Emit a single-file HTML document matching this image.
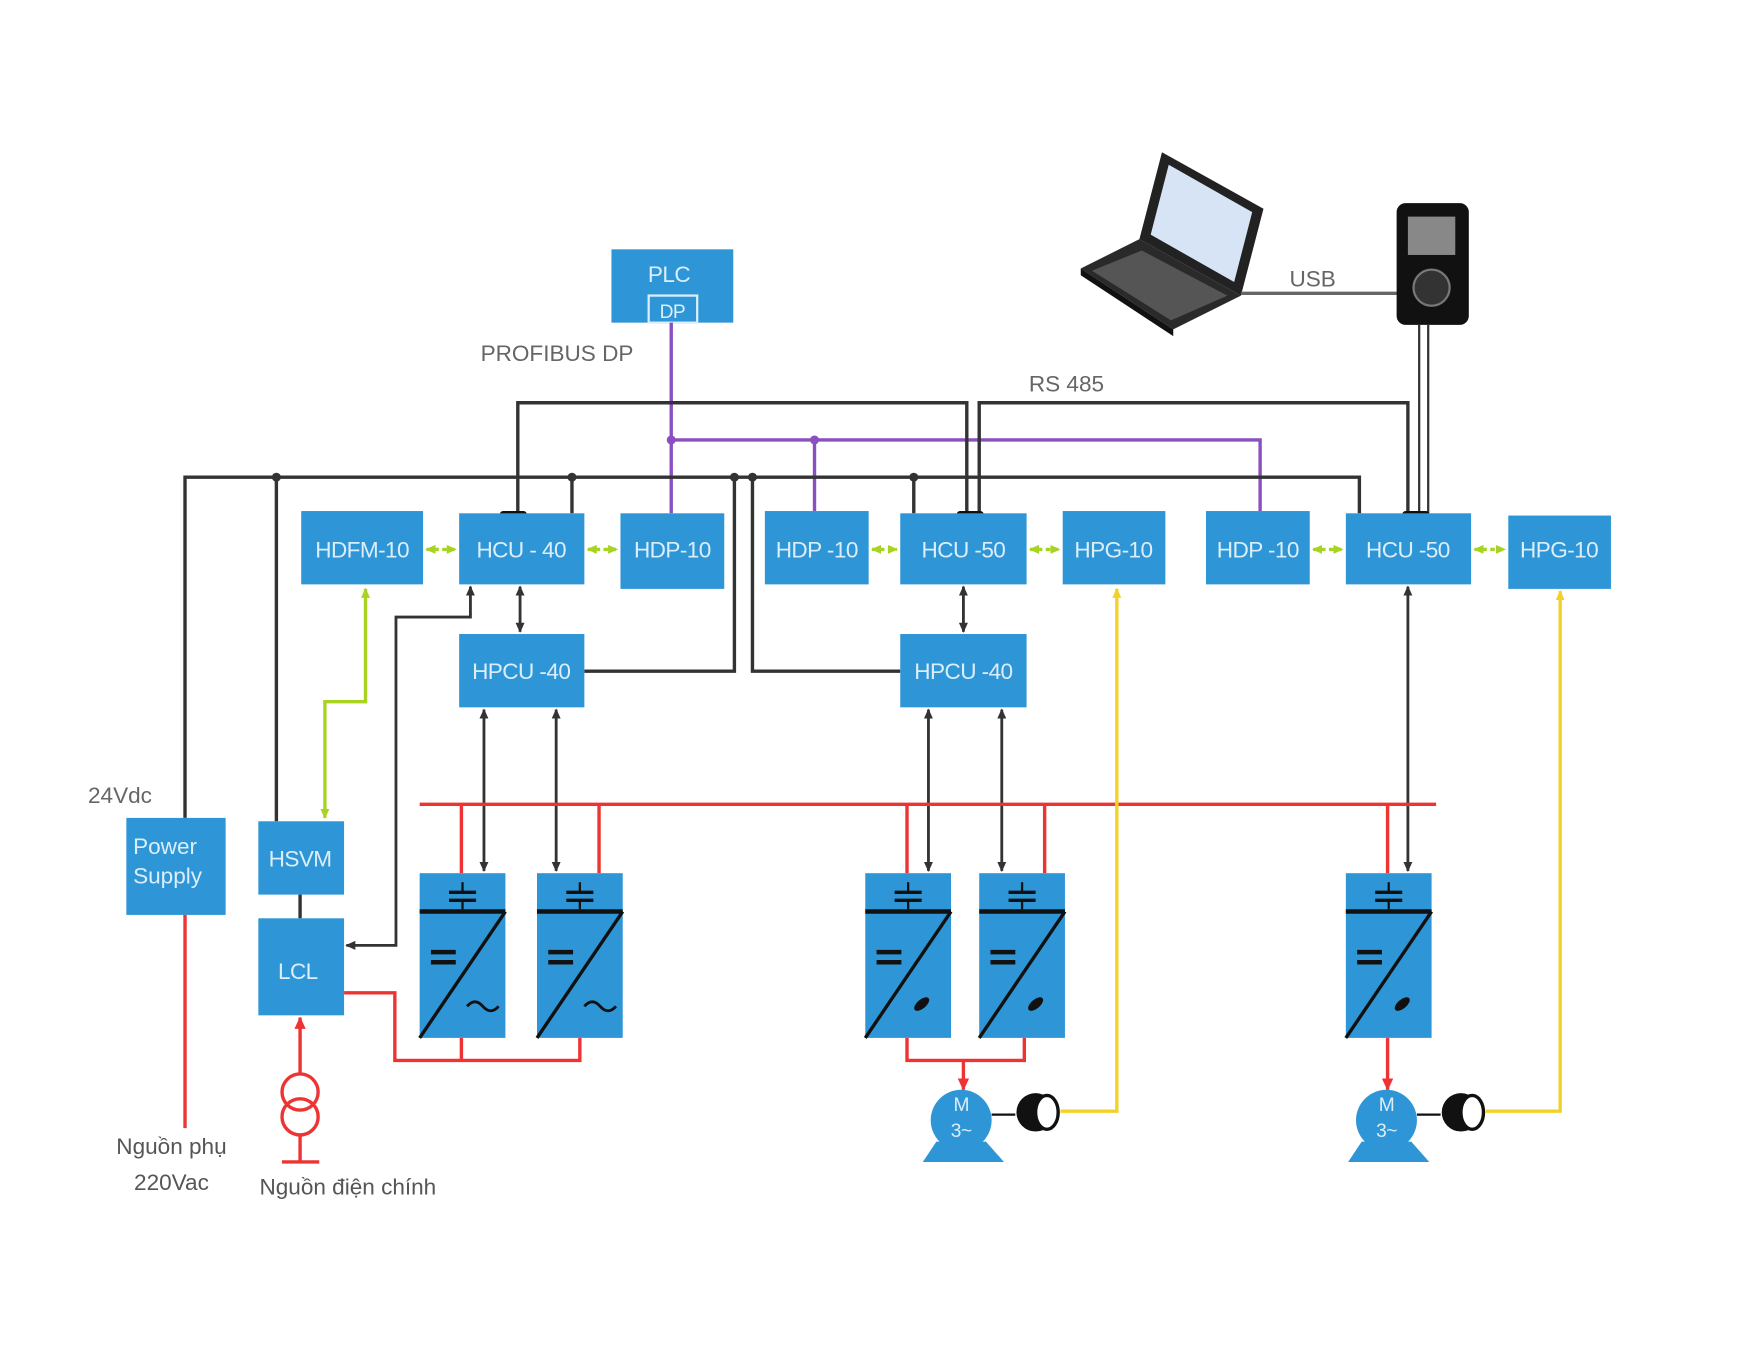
<!DOCTYPE html>
<html><head><meta charset="utf-8"><style>
html,body{margin:0;padding:0;background:#fff;}
svg{display:block;}
text{font-family:"Liberation Sans",sans-serif;}
.bx{fill:#2e96d6;}
.bt{fill:#dbeefa;font-size:20px;text-anchor:middle;letter-spacing:-0.5px;}
.k{stroke:#333;stroke-width:3;fill:none;}
.r{stroke:#ee3333;stroke-width:3;fill:none;}
.g{stroke:#a8d320;stroke-width:3;fill:none;}
.y{stroke:#f2d22a;stroke-width:3;fill:none;}
.p{stroke:#8a4fc0;stroke-width:3;fill:none;}
.lbl{fill:#666;font-size:20px;}
</style></head><body>
<svg width="1761" height="1347" viewBox="0 0 1561 1194" preserveAspectRatio="none" xmlns="http://www.w3.org/2000/svg">
<defs>
<marker id="ak" markerUnits="userSpaceOnUse" markerWidth="10" markerHeight="10" refX="8" refY="5" orient="auto-start-reverse"><path d="M0,1 L9,5 L0,9 z" fill="#333"/></marker>
<marker id="ag" markerUnits="userSpaceOnUse" markerWidth="10" markerHeight="10" refX="8" refY="5" orient="auto-start-reverse"><path d="M0,1 L9,5 L0,9 z" fill="#a8d320"/></marker>
<marker id="ar" markerUnits="userSpaceOnUse" markerWidth="12" markerHeight="12" refX="10" refY="6" orient="auto-start-reverse"><path d="M0,1 L11,6 L0,11 z" fill="#ee3333"/></marker>
<marker id="ay" markerUnits="userSpaceOnUse" markerWidth="10" markerHeight="10" refX="8" refY="5" orient="auto-start-reverse"><path d="M0,1 L9,5 L0,9 z" fill="#f2d22a"/></marker>
<g id="inv">
<rect x="0" y="0" width="76" height="146" class="bx"/>
<line x1="0" y1="34" x2="76" y2="34" stroke="#111" stroke-width="4"/>
<line x1="0" y1="146" x2="76" y2="34" stroke="#111" stroke-width="3"/>
<line x1="26" y1="17" x2="50" y2="17" stroke="#111" stroke-width="3"/><line x1="26" y1="24" x2="50" y2="24" stroke="#111" stroke-width="3"/><line x1="38" y1="8" x2="38" y2="17" stroke="#111" stroke-width="2"/><line x1="38" y1="24" x2="38" y2="32" stroke="#111" stroke-width="2"/>
<line x1="10" y1="70" x2="32" y2="70" stroke="#111" stroke-width="4"/><line x1="10" y1="79" x2="32" y2="79" stroke="#111" stroke-width="4"/>
</g>
</defs>
<rect x="542" y="221" width="108" height="65" class="bx"/>
<text x="593" y="250" class="bt">PLC</text>
<rect x="575" y="262" width="43" height="24" fill="none" stroke="#dbeefa" stroke-width="2"/>
<text x="596" y="282" class="bt" style="font-size:17px">DP</text>
<text x="426" y="320" class="lbl">PROFIBUS  DP</text>
<path class="p" d="M595,286 V455 M595,390 H1117 V453 M722,390 V453"/>
<circle cx="595" cy="390" r="4" fill="#8a4fc0"/><circle cx="722" cy="390" r="4" fill="#8a4fc0"/>
<path class="k" d="M459,455 V357 H857 V455 M868,455 V357 H1248 V455"/>
<text x="912" y="347" class="lbl">RS 485</text>
<g>
<polygon points="1030,135 1120,185 1100,262 1010,212" fill="#222"/>
<polygon points="1036,146 1110,188 1094,250 1020,208" fill="#d6e4f5"/>
<polygon points="1010,212 1100,262 1040,292 958,238" fill="#2a2a2a"/>
<polygon points="1012,222 1088,262 1038,284 968,240" fill="#555"/>
<polygon points="958,238 1040,292 1040,298 958,244" fill="#111"/>
</g>
<line x1="1100" y1="260" x2="1240" y2="260" stroke="#666" stroke-width="3"/>
<text x="1143" y="254" class="lbl">USB</text>
<rect x="1238" y="180" width="64" height="108" rx="8" fill="#111"/>
<rect x="1248" y="192" width="42" height="34" fill="#888"/>
<circle cx="1269" cy="255" r="16" fill="#333" stroke="#777" stroke-width="2"/>
<path class="k" d="M1258,288 V455 M1266,288 V455" style="stroke-width:2"/>
<path class="k" d="M164,725 V423 H1205 V455 M245,423 V728 M507,423 V455 M651,423 V595 H518 M667,423 V595 H798 M810,423 V455"/>
<g fill="#333"><circle cx="245" cy="423" r="4"/><circle cx="507" cy="423" r="4"/><circle cx="651" cy="423" r="4"/><circle cx="667" cy="423" r="4"/><circle cx="810" cy="423" r="4"/></g>
<rect x="443" y="453" width="24" height="9" rx="3" fill="#111"/><rect x="848" y="453" width="24" height="9" rx="3" fill="#111"/><rect x="1243" y="453" width="24" height="9" rx="3" fill="#111"/>
<rect x="267" y="453" width="108" height="65" class="bx"/><text x="321" y="494" class="bt">HDFM-10</text>
<rect x="407" y="455" width="111" height="63" class="bx"/><text x="462" y="494" class="bt">HCU - 40</text>
<rect x="550" y="455" width="92" height="67" class="bx"/><text x="596" y="494" class="bt">HDP-10</text>
<rect x="678" y="453" width="92" height="65" class="bx"/><text x="724" y="494" class="bt">HDP -10</text>
<rect x="798" y="455" width="112" height="63" class="bx"/><text x="854" y="494" class="bt">HCU -50</text>
<rect x="942" y="453" width="91" height="65" class="bx"/><text x="987" y="494" class="bt">HPG-10</text>
<rect x="1069" y="453" width="92" height="65" class="bx"/><text x="1115" y="494" class="bt">HDP -10</text>
<rect x="1193" y="455" width="111" height="63" class="bx"/><text x="1248" y="494" class="bt">HCU -50</text>
<rect x="1337" y="457" width="91" height="65" class="bx"/><text x="1382" y="494" class="bt">HPG-10</text>
<rect x="407" y="562" width="111" height="65" class="bx"/><text x="462" y="602" class="bt">HPCU -40</text>
<rect x="798" y="562" width="112" height="65" class="bx"/><text x="854" y="602" class="bt">HPCU -40</text>
<g class="g" stroke-dasharray="4,3" marker-start="url(#ag)" marker-end="url(#ag)">
<line x1="378" y1="487" x2="404" y2="487"/><line x1="521" y1="487" x2="547" y2="487"/><line x1="773" y1="487" x2="795" y2="487"/><line x1="913" y1="487" x2="939" y2="487"/><line x1="1164" y1="487" x2="1190" y2="487"/><line x1="1307" y1="487" x2="1334" y2="487"/>
</g>
<path class="g" d="M324,522 V622 H288 V725" marker-start="url(#ag)" marker-end="url(#ag)"/>
<g class="k" style="stroke-width:2.5" marker-start="url(#ak)" marker-end="url(#ak)">
<line x1="461" y1="520" x2="461" y2="560"/><line x1="854" y1="520" x2="854" y2="560"/>
<line x1="429" y1="629" x2="429" y2="772"/><line x1="493" y1="629" x2="493" y2="772"/>
<line x1="823" y1="629" x2="823" y2="772"/><line x1="888" y1="629" x2="888" y2="772"/>
<line x1="1248" y1="520" x2="1248" y2="772"/>
<path d="M417,520 V547 H351 V838 H307"/>
</g>
<text x="78" y="712" class="lbl">24Vdc</text>
<rect x="112" y="725" width="88" height="86" class="bx"/>
<text x="118" y="757" fill="#dbeefa" font-size="20">Power</text><text x="118" y="783" fill="#dbeefa" font-size="20">Supply</text>
<rect x="229" y="728" width="76" height="65" class="bx"/><text x="266" y="768" class="bt">HSVM</text>
<line x1="266" y1="793" x2="266" y2="814" stroke="#333" stroke-width="3"/>
<rect x="229" y="814" width="76" height="86" class="bx"/><text x="264" y="868" class="bt">LCL</text>
<line class="r" x1="164" y1="811" x2="164" y2="1000"/>
<text x="152" y="1023" class="lbl" text-anchor="middle" style="fill:#555">Nguồn phụ</text>
<text x="152" y="1055" class="lbl" text-anchor="middle" style="fill:#555">220Vac</text>
<line class="r" x1="266" y1="952" x2="266" y2="902" marker-end="url(#ar)"/>
<circle cx="266" cy="968" r="16" class="r"/><circle cx="266" cy="990" r="16" class="r"/>
<path class="r" d="M266,1006 V1030 M250,1030 H283"/>
<text x="230" y="1059" class="lbl" style="fill:#555">Nguồn điện chính</text>
<line class="r" x1="372" y1="713" x2="1273" y2="713"/>
<path class="r" d="M409,713 V774 M531,713 V774 M804,713 V774 M926,713 V774 M1230,713 V774"/>
<path class="r" d="M305,880 H350 V940 H514 V920 M409,940 V920"/>
<path class="r" d="M804,920 V940 H908 V920"/>
<line class="r" x1="854" y1="940" x2="854" y2="966" marker-end="url(#ar)"/>
<line class="r" x1="1230" y1="920" x2="1230" y2="966" marker-end="url(#ar)"/>
<use href="#inv" x="372" y="774"/><use href="#inv" x="476" y="774"/>
<use href="#inv" x="767" y="774"/><use href="#inv" x="868" y="774"/><use href="#inv" x="1193" y="774"/>
<g stroke="#111" stroke-width="2.5" fill="none">
<path d="M414,892 q7,-8 14,0 t14,0"/><path d="M518,892 q7,-8 14,0 t14,0"/>
</g>
<g fill="#111"><ellipse cx="817" cy="890" rx="8" ry="4" transform="rotate(-40 817 890)"/><ellipse cx="918" cy="890" rx="8" ry="4" transform="rotate(-40 918 890)"/><ellipse cx="1243" cy="890" rx="8" ry="4" transform="rotate(-40 1243 890)"/></g>
<g>
<polygon points="830,1012 874,1012 890,1030 818,1030" class="bx"/>
<circle cx="852" cy="993" r="27" class="bx"/>
<text x="852" y="985" class="bt" style="font-size:17px">M</text><text x="852" y="1008" class="bt" style="font-size:17px">3~</text>
<line x1="879" y1="988" x2="900" y2="988" stroke="#111" stroke-width="2"/>
<circle cx="918" cy="986" r="17" fill="#111"/><ellipse cx="928" cy="986" rx="10" ry="15" fill="#fff" stroke="#111" stroke-width="3"/>
<path class="y" d="M940,985 H990 V522" marker-end="url(#ay)"/>
</g>
<g>
<polygon points="1207,1012 1251,1012 1267,1030 1195,1030" class="bx"/>
<circle cx="1229" cy="993" r="27" class="bx"/>
<text x="1229" y="985" class="bt" style="font-size:17px">M</text><text x="1229" y="1008" class="bt" style="font-size:17px">3~</text>
<line x1="1256" y1="988" x2="1277" y2="988" stroke="#111" stroke-width="2"/>
<circle cx="1295" cy="986" r="17" fill="#111"/><ellipse cx="1305" cy="986" rx="10" ry="15" fill="#fff" stroke="#111" stroke-width="3"/>
<path class="y" d="M1317,985 H1383 V524" marker-end="url(#ay)"/>
</g>
</svg>
</body></html>
